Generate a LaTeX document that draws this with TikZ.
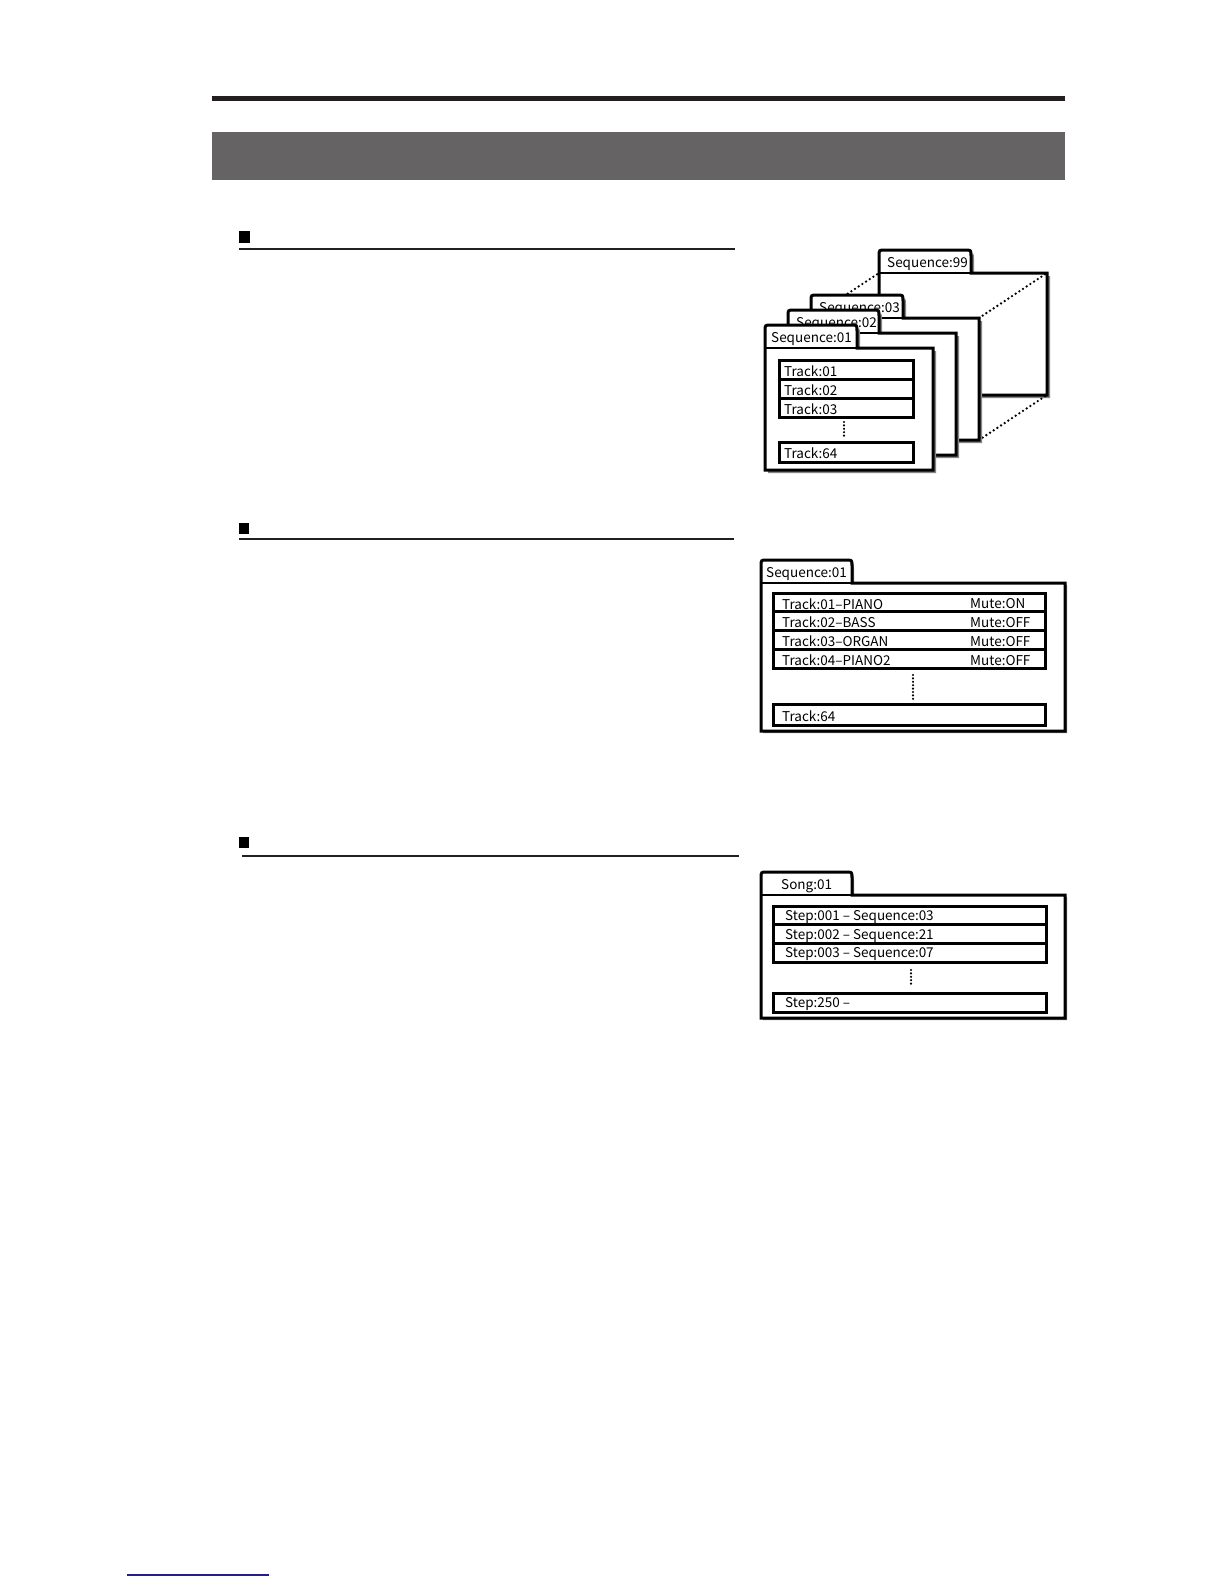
\documentclass[tikz,border=0pt]{standalone}
\usepackage{fontspec}
\newfontfamily\jpfont{Noto Sans CJK JP}
\definecolor{barcolor}{HTML}{656363}
\definecolor{rulecolor}{HTML}{231F20}
\definecolor{shadowgray}{HTML}{858585}
\definecolor{linkblue}{HTML}{1F1F8F}
% #1 name, #2 x, #3 y (body top-left), #4 body width, #5 body height, #6 tab width, #7 shadow offset, #8 label x offset, #9 label
\newcommand\folderpath[3]{(0,#2) -- (0,-17) .. controls (0,-23) .. (6,-23) -- (#3-6,-23) .. controls (#3,-23) .. (#3,-17) -- (#3,0) -- (#1,0) -- (#1,#2) -- cycle}
\newcommand\folder[9]{%
\begin{scope}[shift={(#2,#3)}]
  \begin{scope}[shift={(#7,#7)}]
    \fill[shadowgray] \folderpath{#4}{#5}{#6};
  \end{scope}
  \draw[sheetline] \folderpath{#4}{#5}{#6};
  \draw[line width=2pt] (0,0) -- (#6,0);
  \node[txt] (#1) at (#8,-8.5) {#9};
\end{scope}}
\begin{document}
\begin{tikzpicture}[x=1pt,y=-1pt,
  txt/.style={anchor=west, inner sep=0pt, font=\jpfont\fontsize{13.5}{16}\selectfont},
  rowtxt/.style={txt, yshift=-1.5pt},
  rowbox/.style={draw=black, line width=3pt, fill=white, anchor=north west, inner sep=0pt, outer sep=0pt},
  sheetline/.style={draw=black, line width=3pt, fill=white, line join=miter},
  vdots/.style={line width=2.4pt, line cap=round, dash pattern=on 0pt off 3.4pt},
  ddots/.style={line width=2.6pt, line cap=round, dash pattern=on 0pt off 4.4pt},
  marker/.style={fill=black},
  secrule/.style={draw=rulecolor, line width=1.2pt}]
\useasboundingbox (0,0) rectangle (1224,1584);
\fill[white] (0,0) rectangle (1224,1584);

% page header
\fill[rulecolor] (212,96) rectangle (1065,101);
\fill[barcolor] (212,132) rectangle (1065,180);

% section markers and rules
\fill[marker] (239,231) rectangle (250,243);
\draw[secrule] (239,249) -- (735,249);
\fill[marker] (239,523) rectangle (249,534);
\draw[secrule] (239,539) -- (734,539);
\fill[marker] (239,837) rectangle (249,848);
\draw[secrule] (242,856) -- (739,856);

% ---------- diagram 1 : stacked sequences ----------
\coordinate (c03tl) at (811,318);
\coordinate (c03tr) at (979,318);
\coordinate (c03br) at (979,440);
\coordinate (c99tl) at (879,273);
\coordinate (c99tr) at (1047,273);
\coordinate (c99br) at (1047,395);
\folder{s99}{879}{273}{168}{122}{92}{3}{8}{Sequence:99}
\draw[ddots] (c03tl) -- (c99tl);
\draw[ddots] (c03tr) -- (c99tr);
\draw[ddots] (c03br) -- (c99br);
\folder{s03}{811}{318}{168}{122}{92}{3}{8}{Sequence:03}
\folder{s02}{788}{333}{168}{122}{91}{3}{8}{Sequence:02}
\folder{s01}{765}{348}{168}{122}{92}{3}{6}{Sequence:01}

\node[rowbox, minimum width=134, minimum height=19] (a1) at (779,360) {};
\node[rowtxt] at ([xshift=5]a1.west) {Track:01};
\node[rowbox, minimum width=134, minimum height=19] (a2) at (779,379) {};
\node[rowtxt] at ([xshift=5]a2.west) {Track:02};
\node[rowbox, minimum width=134, minimum height=19] (a3) at (779,398) {};
\node[rowtxt] at ([xshift=5]a3.west) {Track:03};
\node[rowbox, minimum width=134, minimum height=20] (a64) at (779,442) {};
\node[rowtxt] at ([xshift=5]a64.west) {Track:64};
\coordinate (ad1) at (844,422);
\coordinate (ad2) at (844,437);
\draw[vdots] (ad1) -- (ad2);

% ---------- diagram 2 : sequence with mute ----------
\coordinate (mutex) at (970,0);
\folder{s2}{761}{583}{304}{148}{91}{2}{5}{Sequence:01}
\node[rowbox, minimum width=272, minimum height=18.75] (b1) at (773,593) {};
\node[rowtxt] at ([xshift=9]b1.west) {Track:01–PIANO};
\node[rowtxt] at (b1.west -| mutex) {Mute:ON};
\node[rowbox, minimum width=272, minimum height=18.75] (b2) at (773,611.75) {};
\node[rowtxt] at ([xshift=9]b2.west) {Track:02–BASS};
\node[rowtxt] at (b2.west -| mutex) {Mute:OFF};
\node[rowbox, minimum width=272, minimum height=18.75] (b3) at (773,630.5) {};
\node[rowtxt] at ([xshift=9]b3.west) {Track:03–ORGAN};
\node[rowtxt] at (b3.west -| mutex) {Mute:OFF};
\node[rowbox, minimum width=272, minimum height=18.75] (b4) at (773,649.25) {};
\node[rowtxt] at ([xshift=9]b4.west) {Track:04–PIANO2};
\node[rowtxt] at (b4.west -| mutex) {Mute:OFF};
\node[rowbox, minimum width=272, minimum height=21] (b64) at (773,704) {};
\node[rowtxt] at ([xshift=9]b64.west) {Track:64};
\coordinate (bd1) at (913,675);
\coordinate (bd2) at (913,700);
\draw[vdots] (bd1) -- (bd2);

% ---------- diagram 3 : song ----------
\folder{s3}{761}{895}{304}{123}{91}{2}{20}{Song:01}
\node[rowbox, minimum width=273, minimum height=18.7] (c1) at (773,906) {};
\node[rowtxt] at ([xshift=12]c1.west) {Step:001 – Sequence:03};
\node[rowbox, minimum width=273, minimum height=18.7] (c2) at (773,924.7) {};
\node[rowtxt] at ([xshift=12]c2.west) {Step:002 – Sequence:21};
\node[rowbox, minimum width=273, minimum height=18.7] (c3) at (773,943.4) {};
\node[rowtxt] at ([xshift=12]c3.west) {Step:003 – Sequence:07};
\node[rowbox, minimum width=273, minimum height=19] (c250) at (773,993) {};
\node[rowtxt] at ([xshift=12]c250.west) {Step:250 –};
\coordinate (cd1) at (911,970);
\coordinate (cd2) at (911,985);
\draw[vdots] (cd1) -- (cd2);

% footer link rule
\draw[linkblue, line width=1.3pt] (127,1575) -- (269,1575);
\end{tikzpicture}
\end{document}
